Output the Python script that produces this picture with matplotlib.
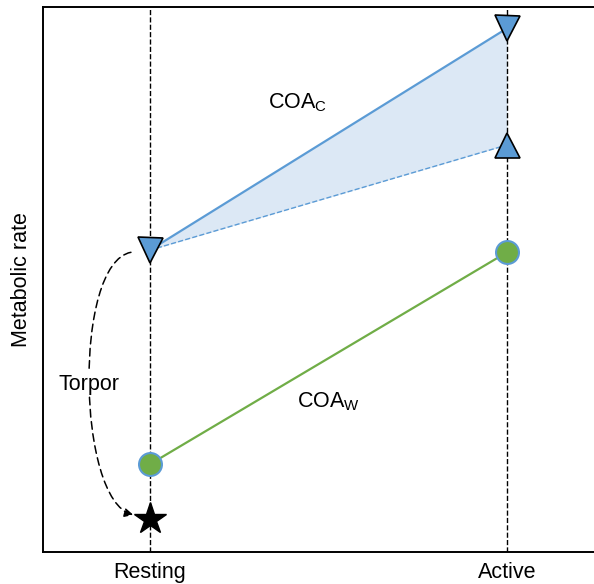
import matplotlib
matplotlib.use("Agg")
import matplotlib.pyplot as plt
from matplotlib.patches import FancyArrowPatch
from matplotlib.path import Path
import numpy as np

plt.rcParams['font.family'] = ['Liberation Sans', 'DejaVu Sans']
plt.rcParams['mathtext.fontset'] = 'custom'
plt.rcParams['mathtext.rm'] = 'Liberation Sans'
plt.rcParams['mathtext.it'] = 'Liberation Sans:italic'

# state positions on the x axis
states = ["Resting", "Active"]
state_x = [0, 1]

# metabolic rate (arbitrary units)
cold_rest = 5.54
cold_active_hi = 9.61
cold_active_lo = 7.47
warm_rest = 1.61
warm_active = 5.50
torpor_rate = 0.61

blue = "#5b9bd5"
green = "#70ad47"
fill_blue = "#dce8f5"

fig = plt.figure(figsize=(5.94, 5.84), dpi=100)
ax = fig.add_axes([0.0732, 0.0548, 0.9268, 0.933])
ax.set_xlim(-0.298, 1.244)
ax.set_ylim(0, 10)

# guide lines for the two states
for x in state_x:
    ax.axvline(x, color="black", ls="--", lw=1, zorder=1)

# cold: shaded range between upper and lower active cost
ax.fill_between(state_x, [cold_rest, cold_active_hi], [cold_rest, cold_active_lo],
                color=fill_blue, lw=0, zorder=0)
ax.plot(state_x, [cold_rest, cold_active_hi], color=blue, lw=1.6, zorder=2)
ax.plot(state_x, [cold_rest, cold_active_lo], color=blue, lw=1, ls="--", zorder=2)
ax.plot([0, 1], [cold_rest, cold_active_hi], ls="none", marker="v", ms=18,
        mfc=blue, mec="black", mew=1.2, zorder=4)
ax.plot([1], [cold_active_lo], ls="none", marker="^", ms=18,
        mfc=blue, mec="black", mew=1.2, zorder=4)

# warm
ax.plot(state_x, [warm_rest, warm_active], color=green, lw=1.6, zorder=2)
ax.plot(state_x, [warm_rest, warm_active], ls="none", marker="o", ms=16.5,
        mfc=green, mec=blue, mew=1.5, zorder=4)

# torpor
ax.plot([0], [torpor_rate], ls="none", marker="*", ms=24, color="black", zorder=4)
verts = [(-0.053, 5.50), (-0.215, 5.30), (-0.205, 0.95), (-0.046, 0.68)]
torpor_path = Path(verts, [Path.MOVETO, Path.CURVE4, Path.CURVE4, Path.CURVE4])
arrow = FancyArrowPatch(path=torpor_path, arrowstyle="-|>", mutation_scale=13,
                        color="black", lw=1.1, ls=(0, (5, 3)), zorder=3)
ax.add_patch(arrow)
ax.text(-0.255, 3.08, "Torpor", fontsize=15.5, va="center", ha="left",
        bbox=dict(facecolor="white", edgecolor="none", pad=1), zorder=3)

ax.text(0.331, 8.24, r"COA$_\mathrm{C}$", fontsize=15.5, va="center", ha="left")
ax.text(0.412, 2.75, r"COA$_\mathrm{W}$", fontsize=15.5, va="center", ha="left")

ax.set_xticks(state_x)
ax.set_xticklabels(states, fontsize=15.5)
ax.set_yticks([])
ax.tick_params(axis="x", length=0, pad=7)
ax.set_ylabel("Metabolic rate", fontsize=15.5, labelpad=8)

ax.spines["right"].set_visible(False)
for s in ["left", "top", "bottom"]:
    ax.spines[s].set_linewidth(1.4)

fig.savefig("out.png", dpi=100)
